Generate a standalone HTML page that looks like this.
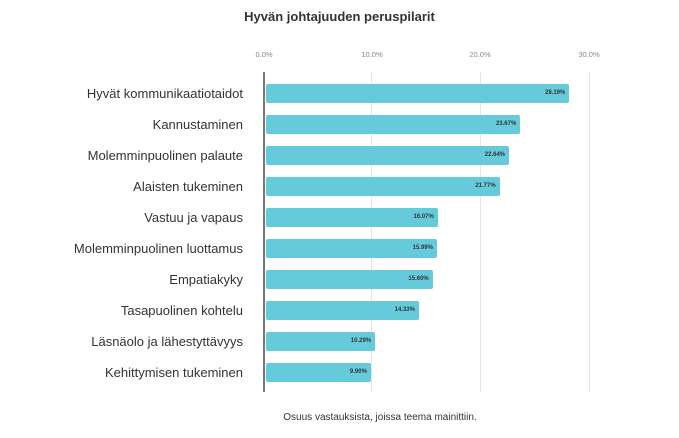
<!DOCTYPE html>
<html><head><style>
body{margin:0;background:#fff;width:679px;height:438px;overflow:hidden;font-family:"Liberation Sans",sans-serif;position:relative}
.t{position:absolute;white-space:nowrap}
.lab{position:absolute;right:436px;font-size:13px;color:#333;line-height:19px;white-space:nowrap}
.bar{position:absolute;left:266px;height:19px;background:#65cbdb;border-radius:2px;display:flex;align-items:center;justify-content:flex-end}
.v{font-size:6px;font-weight:bold;color:#333;white-space:nowrap;margin-right:4px;line-height:6px}
.g{position:absolute;top:72px;height:320px;width:1px;background:#e6e6e6}
.tk{position:absolute;top:50px;font-size:7.5px;color:#888;transform:translateX(-50%)}
</style></head><body>
<div class="t" style="left:0;width:679px;text-align:center;top:9px;font-size:13px;font-weight:bold;color:#333">Hyvän johtajuuden peruspilarit</div>
<div class="tk" style="left:264px">0.0%</div>
<div class="tk" style="left:372px">10.0%</div>
<div class="tk" style="left:480px">20.0%</div>
<div class="tk" style="left:589px">30.0%</div>
<div class="g" style="left:371px"></div>
<div class="g" style="left:480px"></div>
<div class="g" style="left:589px"></div>
<div style="position:absolute;left:263px;top:72px;width:2px;height:320px;background:#777"></div>
<div id="c"></div>
<div class="t" style="left:0;width:760px;text-align:center;top:412px;font-size:10px;color:#333">Osuus vastauksista, joissa teema mainittiin.</div>
<script>
var d=[["Hyvät kommunikaatiotaidot",28.19],["Kannustaminen",23.67],["Molemminpuolinen palaute",22.64],["Alaisten tukeminen",21.77],["Vastuu ja vapaus",16.07],["Molemminpuolinen luottamus",15.99],["Empatiakyky",15.60],["Tasapuolinen kohtelu",14.33],["Läsnäolo ja lähestyttävyys",10.29],["Kehittymisen tukeminen",9.90]];
var h="";d.forEach(function(r,i){var y=83.5+31*i,e=263.5+r[1]*10.85;
h+='<div class="lab" style="top:'+y+'px">'+r[0]+'</div><div class="bar" style="top:'+y+'px;width:'+(e-266)+'px"><span class="v">'+r[1].toFixed(2)+'%</span></div>';});
document.getElementById("c").innerHTML=h;
</script>
</body></html>
